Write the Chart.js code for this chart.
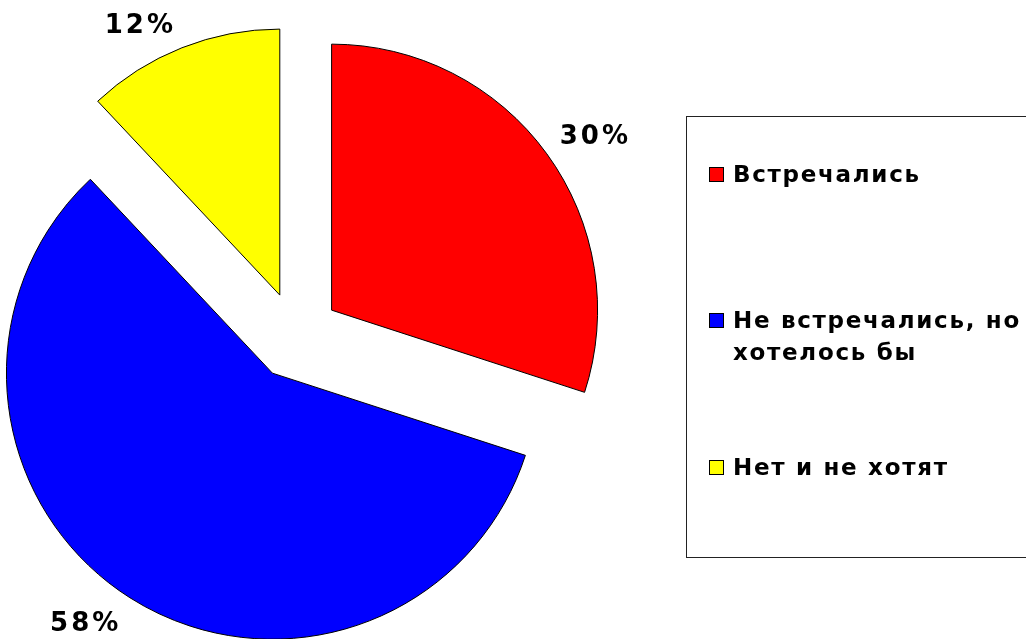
<!DOCTYPE html>
<html lang="ru">
<head>
<meta charset="utf-8">
<title>Встречались</title>
<script src="https://cdn.jsdelivr.net/npm/chart.js@4.4.1/dist/chart.umd.min.js"></script>
<style>
    html, body { margin: 0; padding: 0; background: #fff; overflow: hidden; }
    #wrap { position: relative; width: 1026px; height: 639px; }
    #legend {
        position: absolute; left: 686px; top: 116px; width: 400px; height: 442px;
        border: 1px solid #222; box-sizing: border-box;
        font-family: 'DejaVu Sans', Verdana, sans-serif; font-weight: bold;
        font-size: 23px; line-height: 32px; color: #000; letter-spacing: 1.7px;
    }
    .item { position: absolute; left: 22px; display: flex; align-items: flex-start; }
    .item:nth-child(1) { top: 41px; }
    .item:nth-child(2) { top: 187px; }
    .item:nth-child(3) { top: 334px; }
    .swatch { width: 13px; height: 13px; border: 1px solid #000; margin-top: 9px; margin-right: 9px; flex: none; }
    .text { width: 310px; }
</style>
</head>
<body>
<div id="wrap">
    <canvas id="pieChart"></canvas>
    <div id="legend"></div>
</div>
<script>
const categories = ['Встречались', 'Не встречались, но хотелось бы', 'Нет и не хотят'];
const shares = [30, 58, 12];
const sliceColors = ['#ff0000', '#0000ff', '#ffff00'];

const EXPLODE = 44;

// pull every slice out along its bisector, then draw the % labels outside
const explodePlugin = {
    id: 'explode',
    beforeDatasetDraw(chart, args) {
        const ctx = chart.ctx;
        args.meta.data.forEach(arc => {
            const mid = (arc.startAngle + arc.endAngle) / 2;
            ctx.save();
            ctx.translate(Math.cos(mid) * EXPLODE, Math.sin(mid) * EXPLODE);
            arc.draw(ctx, chart.chartArea);
            ctx.restore();
        });
        return false;
    },
    afterDraw(chart) {
        const ctx = chart.ctx;
        const meta = chart.getDatasetMeta(0);
        ctx.save();
        ctx.font = 'bold 26px "DejaVu Sans"';
        ctx.letterSpacing = '3px';
        ctx.fillStyle = '#000';
        meta.data.forEach((arc, i) => {
            const mid = (arc.startAngle + arc.endAngle) / 2;
            const dx = Math.cos(mid);
            const dy = Math.sin(mid);
            const r = arc.outerRadius + EXPLODE + 16;
            ctx.textAlign = dx < 0 ? 'right' : 'left';
            ctx.textBaseline = dy < 0 ? 'alphabetic' : 'top';
            ctx.fillText(shares[i] + '%', arc.x + dx * r, arc.y + dy * r);
        });
        ctx.restore();
    }
};

const legendEl = document.getElementById('legend');
categories.forEach((name, i) => {
    const item = document.createElement('div');
    item.className = 'item';
    const sw = document.createElement('span');
    sw.className = 'swatch';
    sw.style.background = sliceColors[i];
    const txt = document.createElement('span');
    txt.className = 'text';
    txt.textContent = name;
    item.appendChild(sw);
    item.appendChild(txt);
    legendEl.appendChild(item);
});

new Chart(document.getElementById('pieChart'), {
    type: 'pie',
    data: {
        labels: categories,
        datasets: [{
            data: shares,
            backgroundColor: sliceColors,
            borderColor: '#000',
            borderWidth: 1
        }]
    },
    options: {
        responsive: true,
        maintainAspectRatio: false,
        animation: false,
        radius: 266,
        layout: { padding: { left: 0, right: 434, top: 33, bottom: 0 } },
        plugins: {
            legend: { display: false },
            tooltip: { enabled: false }
        }
    },
    plugins: [explodePlugin]
});
</script>
</body>
</html>
